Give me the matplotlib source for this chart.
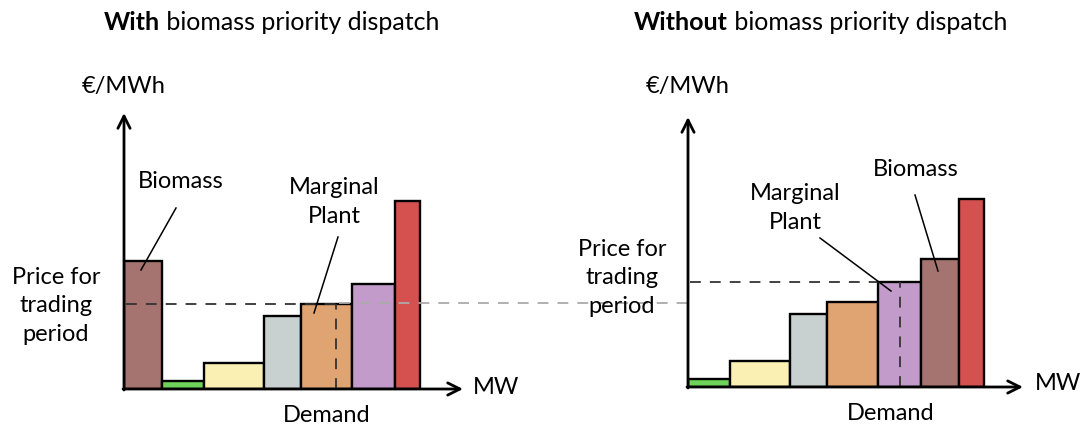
import matplotlib
matplotlib.use("Agg")
import matplotlib.pyplot as plt

# ---- data (arbitrary units) ----
plants = ["Wind/Solar", "Nuclear", "Coal", "Gas CCGT", "Gas", "Biomass", "Peaker"]
capacity = [42, 60, 37, 51, 43, 38, 25]        # MW (bar widths)
cost = [8, 26, 73, 85, 105, 128, 188]           # €/MWh (bar heights)
colors = ["#6fd25a", "#faf0b4", "#c8d1cf", "#e0a473", "#c39bcb", "#a57470", "#d45150"]
demand = 212
order_with = [5, 0, 1, 2, 3, 4, 6]      # biomass dispatched first
order_without = [0, 1, 2, 3, 4, 5, 6]   # pure merit order

W, H = 1085, 428
DPI = 100
plt.rcParams['font.family'] = ['Lato', 'DejaVu Sans']
fig = plt.figure(figsize=(W / DPI, H / DPI), dpi=DPI)

FS = 17
LS = 1.45


def make_axes(x0, y0, w, h):
    ax = fig.add_axes([x0 / W, (H - y0) / H, w / W, h / H])
    ax.set_xlim(0, w)
    ax.set_ylim(0, h)
    ax.axis("off")
    return ax


def draw_panel(ax, order):
    left = 0
    price = None
    lefts = []
    for i in order:
        ax.bar(left, cost[i], width=capacity[i], align="edge", color=colors[i],
               edgecolor="black", linewidth=1.7, zorder=2)
        lefts.append(left)
        if left <= demand < left + capacity[i]:
            price = cost[i]
        left += capacity[i]
    return price, dict(zip(order, lefts))


def axes_arrows(ax, xend, ytop):
    ax.annotate("", xy=(0, ytop), xytext=(0, -1), annotation_clip=False,
                arrowprops=dict(arrowstyle="->", lw=2, color="black",
                                mutation_scale=22, shrinkA=0, shrinkB=0), zorder=5)
    ax.annotate("", xy=(xend, 0), xytext=(-1, 0), annotation_clip=False,
                arrowprops=dict(arrowstyle="->", lw=2, color="black",
                                mutation_scale=22, shrinkA=0, shrinkB=0), zorder=5)


# ---- left panel ----
axL = make_axes(124, 389, 340, 280)
priceL, leftsL = draw_panel(axL, order_with)
axes_arrows(axL, 339, 276)
axL.plot([2, demand], [priceL, priceL], ls=(0, (6, 5)), color="#333333", lw=1.3, zorder=4)
axL.plot([demand, demand], [0, priceL], ls=(0, (6, 5)), color="#333333", lw=1.3, zorder=4)
# light connector to right panel
axL.plot([demand + 3, 688 - 124], [priceL + 1, priceL + 1], ls=(0, (6, 5)),
         color="#aaaaaa", lw=1.3, zorder=4, clip_on=False)

axL.text(0, 302, "€/MWh", fontsize=FS, ha="center", va="center")
axL.text(349, 2, "MW", fontsize=FS, ha="left", va="center")
axL.text(demand - 9, -26, "Demand", fontsize=FS, ha="center", va="center")
axL.text(-68, 83, "Price for\ntrading\nperiod", fontsize=FS, ha="center", va="center",
         linespacing=LS)
axL.text(57, 207, "Biomass", fontsize=FS, ha="center", va="center")
axL.plot([52, 17], [181, 119], color="black", lw=1.1, zorder=6)
axL.text(210, 187, "Marginal\nPlant", fontsize=FS, ha="center", va="center",
         linespacing=LS)
axL.plot([214, 190], [152, 76], color="black", lw=1.1, zorder=6)

# ---- right panel ----
axR = make_axes(688, 387, 340, 280)
priceR, leftsR = draw_panel(axR, order_without)
axes_arrows(axR, 335, 270)
axR.plot([2, leftsR[4]], [priceR, priceR], ls=(0, (6, 5)), color="#333333", lw=1.3, zorder=4)
axR.plot([demand, demand], [0, priceR], ls=(0, (6, 5)), color="#333333", lw=1.3, zorder=4)

axR.text(0, 300, "€/MWh", fontsize=FS, ha="center", va="center")
axR.text(347, 4, "MW", fontsize=FS, ha="left", va="center")
axR.text(203, -26, "Demand", fontsize=FS, ha="center", va="center")
axR.text(-66, 109, "Price for\ntrading\nperiod", fontsize=FS, ha="center", va="center",
         linespacing=LS)
axR.text(228, 217, "Biomass", fontsize=FS, ha="center", va="center")
axR.plot([227, 250], [192, 116], color="black", lw=1.1, zorder=6)
axR.text(107, 179, "Marginal\nPlant", fontsize=FS, ha="center", va="center",
         linespacing=LS)
axR.plot([132, 203], [149, 96], color="black", lw=1.1, zorder=6)

# ---- titles ----
TFS = 18
t1 = fig.text(104 / W, 1 - 22 / H, "With", fontsize=TFS, fontweight="bold",
              ha="left", va="center")
fig.axes[0].annotate(" biomass priority dispatch", xy=(1, 0), xycoords=t1,
                     fontsize=TFS, ha="left", va="bottom", annotation_clip=False)
t2 = fig.text(634 / W, 1 - 22 / H, "Without", fontsize=TFS, fontweight="bold",
              ha="left", va="center")
fig.axes[0].annotate(" biomass priority dispatch", xy=(1, 0), xycoords=t2,
                     fontsize=TFS, ha="left", va="bottom", annotation_clip=False)

fig.savefig("out.png", dpi=DPI)
